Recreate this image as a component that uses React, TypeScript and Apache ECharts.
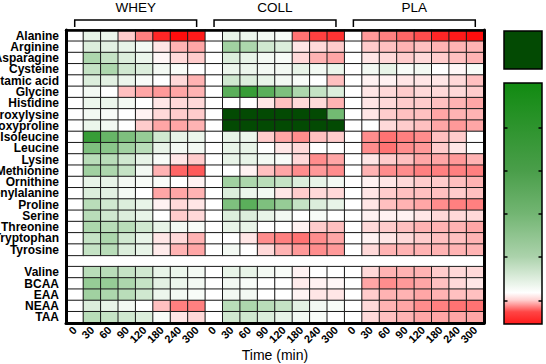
import React, { useEffect, useRef } from 'react';
import * as echarts from 'echarts';

const timePoints = ['0', '30', '60', '90', '120', '180', '240', '300'];
const groups = ['WHEY', 'COLL', 'PLA'];
const aminoAcids = [
  'Alanine', 'Arginine', 'Asparagine', 'Cysteine', 'Glutamic acid', 'Glycine', 'Histidine',
  'Hydroxylysine', 'Hydroxyproline', 'Isoleucine', 'Leucine', 'Lysine', 'Methionine',
  'Ornithine', 'Phenylalanine', 'Proline', 'Serine', 'Threonine', 'Tryptophan', 'Tyrosine',
];
const summaryRows = ['Valine', 'BCAA', 'EAA', 'NEAA', 'TAA'];
const xTitle = 'Time (min)';

// Relative change per cell: + = increase (green), - = decrease (red), 2 = above scale
const whey = [
  [0, 0.1, 0.08, -0.2, -0.5, -0.85, -0.95, -0.9],
  [0, 0.15, 0.12, 0.1, 0.05, -0.1, -0.3, -0.35],
  [0, 0.35, 0.25, 0.15, 0.08, -0.03, -0.15, -0.2],
  [0, 0.25, 0.35, 0.2, 0.15, 0.05, 0.03, 0],
  [0, 0.15, 0.12, 0.08, 0.03, 0, -0.15, -0.3],
  [0, 0.05, 0, -0.25, -0.35, -0.4, -0.35, -0.3],
  [0, 0.08, 0.08, 0.05, 0, -0.1, -0.15, -0.15],
  [0, 0.05, 0.03, 0, -0.05, -0.15, -0.2, -0.2],
  [0, 0.08, 0.05, 0, -0.2, -0.35, -0.35, -0.3],
  [0, 0.85, 0.65, 0.55, 0.45, 0.2, 0.1, 0.08],
  [0, 0.55, 0.5, 0.4, 0.3, 0.1, 0.05, 0.05],
  [0, 0.3, 0.3, 0.2, 0.1, 0.03, -0.1, -0.2],
  [0, 0.4, 0.35, 0.25, 0.05, -0.3, -0.6, -0.65],
  [0, 0.1, 0.1, 0.05, 0.03, 0.03, 0, -0.05],
  [0, 0.15, 0.12, 0.05, 0, -0.35, -0.35, -0.3],
  [0, 0.3, 0.2, 0.15, 0.1, -0.05, -0.15, -0.1],
  [0, 0.3, 0.2, 0.15, 0.1, 0, -0.2, -0.15],
  [0, 0.35, 0.3, 0.3, 0.2, 0.1, 0.05, 0.03],
  [0, 0.25, 0.35, 0.2, 0.1, -0.1, -0.15, -0.3],
  [0, 0.25, 0.3, 0.15, 0.1, -0.08, -0.3, -0.35],
  [0, 0.3, 0.3, 0.25, 0.2, 0.1, 0.08, 0.05],
  [0, 0.45, 0.45, 0.35, 0.25, 0.12, 0.08, 0.05],
  [0, 0.4, 0.35, 0.3, 0.2, 0.08, 0.05, 0.03],
  [0, 0.15, 0.1, 0.05, 0, -0.25, -0.5, -0.5],
  [0, 0.3, 0.25, 0.2, 0.15, 0.03, -0.1, -0.15],
];
const coll = [
  [0, 0.1, 0.08, 0.05, 0.03, -0.55, -0.75, -0.8],
  [0, 0.4, 0.35, 0.2, 0.15, -0.1, -0.15, -0.2],
  [0, 0.15, 0.1, 0.05, 0.03, -0.15, -0.3, -0.35],
  [0, 0.08, 0.08, 0.05, 0.05, 0.1, 0.05, 0.08],
  [0, 0.2, 0.15, 0.1, 0.05, 0.03, 0, -0.25],
  [0, 0.7, 0.85, 0.7, 0.55, 0.35, 0.25, 0.15],
  [0, 0, 0, -0.1, -0.25, -0.15, -0.15, -0.3],
  [0, 2, 2, 2, 2, 2, 2, 0.6],
  [0, 2, 2, 2, 2, 2, 2, 2],
  [0, 0.1, 0.08, -0.2, -0.35, -0.45, -0.25, -0.2],
  [0, 0.1, 0.1, 0, -0.1, -0.15, 0, 0],
  [0, 0.1, 0.1, 0.05, 0.03, -0.15, -0.45, -0.35],
  [0, 0, -0.05, -0.25, -0.35, -0.45, -0.4, -0.45],
  [0, 0.4, 0.35, 0.3, 0.25, 0.15, 0.1, 0.05],
  [0, 0.15, 0.08, 0.05, -0.1, -0.2, -0.15, -0.15],
  [0, 0.55, 0.7, 0.55, 0.45, 0.25, 0.15, 0.1],
  [0, 0.15, 0.15, 0.1, 0.05, 0, 0.03, 0],
  [0, 0.1, 0.1, 0, 0, -0.05, -0.2, -0.25],
  [0, 0, -0.1, -0.45, -0.5, -0.55, -0.45, -0.35],
  [0, 0.05, 0, -0.15, -0.3, -0.4, -0.45, -0.4],
  [0, 0.1, 0.1, 0.05, 0.03, -0.05, 0, 0],
  [0, 0.05, 0.03, 0, 0, -0.08, -0.05, -0.03],
  [0, 0.05, 0.05, 0, 0, -0.05, -0.1, -0.1],
  [0, 0.3, 0.35, 0.3, 0.25, 0.12, 0.05, 0.03],
  [0, 0.2, 0.2, 0.15, 0.1, 0.05, 0.03, 0],
];
const pla = [
  [0, -0.4, -0.5, -0.6, -0.7, -0.85, -0.9, -0.95],
  [0, -0.2, -0.25, -0.3, -0.25, -0.3, -0.3, -0.3],
  [0, -0.1, -0.15, -0.2, -0.15, -0.2, -0.25, -0.3],
  [0, 0.05, 0.1, 0.03, 0.05, 0, -0.03, 0.03],
  [0, -0.05, -0.05, -0.1, -0.1, -0.1, -0.15, -0.25],
  [0, -0.1, -0.15, -0.2, -0.15, -0.15, -0.15, -0.2],
  [0, -0.1, -0.15, -0.2, -0.2, -0.25, -0.3, -0.35],
  [0, -0.1, -0.2, -0.25, -0.25, -0.35, -0.3, -0.3],
  [0, 0, -0.15, -0.2, -0.25, -0.35, -0.4, -0.35],
  [0, -0.45, -0.55, -0.5, -0.45, -0.25, -0.2, 0],
  [0, -0.45, -0.55, -0.45, -0.4, -0.2, -0.1, 0],
  [0, -0.1, -0.2, -0.25, -0.35, -0.35, -0.4, -0.3],
  [0, -0.3, -0.45, -0.45, -0.5, -0.5, -0.5, -0.5],
  [0, -0.05, -0.1, -0.15, -0.2, -0.2, -0.25, -0.3],
  [0, -0.1, -0.2, -0.25, -0.25, -0.25, -0.2, -0.25],
  [0, -0.1, -0.25, -0.3, -0.35, -0.45, -0.5, -0.5],
  [0, -0.05, -0.05, -0.05, -0.1, -0.15, -0.15, -0.15],
  [0, -0.15, -0.2, -0.25, -0.3, -0.3, -0.3, -0.35],
  [0, -0.05, -0.1, -0.15, -0.2, -0.25, -0.25, -0.3],
  [0, -0.15, -0.3, -0.3, -0.3, -0.3, -0.3, -0.3],
  [0, -0.15, -0.3, -0.3, -0.3, -0.2, -0.15, -0.15],
  [0, -0.35, -0.45, -0.4, -0.35, -0.25, -0.15, -0.1],
  [0, -0.2, -0.3, -0.3, -0.35, -0.3, -0.25, -0.25],
  [0, -0.15, -0.3, -0.35, -0.45, -0.5, -0.55, -0.55],
  [0, -0.15, -0.25, -0.3, -0.35, -0.35, -0.35, -0.35],
];

const FONT = '"Liberation Sans", Arial, Helvetica, sans-serif';

function cellColor(v: number): string {
  if (v > 1.2) return '#034a03';
  if (v >= 0) {
    const f = Math.min(v, 1);
    const r = Math.round(255 + (20 - 255) * f);
    const g = Math.round(255 + (140 - 255) * f);
    return `rgb(${r},${g},${r})`;
  }
  const f = Math.min(-v, 1);
  const gb = Math.round(255 * (1 - f));
  return `rgb(255,${gb},${gb})`;
}

export default function App() {
  const ref = useRef<HTMLDivElement>(null);
  useEffect(() => {
    const chart = echarts.init(ref.current!, null, { renderer: 'svg' });
    const rows = [...aminoAcids, '', ...summaryRows];
    const xCats = groups.flatMap((g) => timePoints.map((t) => g + '|' + t));
    const groupData = [whey, coll, pla];
    const data: any[] = [];
    groupData.forEach((g, gi) =>
      g.forEach((row, ri) =>
        row.forEach((v, ti) => {
          const yIdx = ri < aminoAcids.length ? ri : ri + 1;
          data.push([gi * timePoints.length + ti, yIdx, v]);
        })
      )
    );

    const thick = { lineStyle: { color: '#000', width: 3 } };
    chart.setOption({
      animation: false,
      grid: { left: 66, right: 62, top: 30, bottom: 41, containLabel: false, outerBoundsMode: 'none' },
      visualMap: {
        type: 'continuous',
        show: false,
        dimension: 2,
        min: -1,
        max: 1.5,
        inRange: { color: [-1, -0.5, 0, 0.5, 1, 2].map(cellColor) },
      },
      xAxis: [
        {
          type: 'category',
          data: xCats,
          position: 'bottom',
          z: 10,
          axisLine: thick,
          axisTick: { show: false },
          splitLine: { show: false },
          axisLabel: {
            interval: 0,
            rotate: 45,
            formatter: (v: string) => v.split('|')[1],
            fontWeight: 'bold',
            fontSize: 11,
            color: '#000',
            fontFamily: FONT,
            margin: 5,
          },
          name: xTitle,
          nameLocation: 'middle',
          nameGap: 25,
          nameMoveOverlap: false,
          nameTextStyle: { fontSize: 14, color: '#000', fontFamily: FONT },
        },
        {
          type: 'category',
          data: xCats,
          position: 'top',
          z: 10,
          axisLine: { lineStyle: { color: '#000', width: 2.5 } },
          axisTick: { show: false },
          axisLabel: { show: false },
        },
      ],
      yAxis: [
        {
          type: 'category',
          data: rows,
          inverse: true,
          z: 10,
          axisLine: thick,
          axisTick: {
            length: 5,
            alignWithLabel: true,
            interval: (_i: number, v: string) => v !== '',
            lineStyle: { color: '#000', width: 2 },
          },
          axisLabel: {
            interval: 0,
            fontWeight: 'bold',
            fontSize: 12,
            lineHeight: 11,
            color: '#000',
            fontFamily: FONT,
            margin: 7,
          },
        },
        {
          type: 'category',
          data: rows,
          inverse: true,
          position: 'right',
          z: 10,
          axisLine: thick,
          axisTick: { show: false },
          axisLabel: { show: false },
        },
      ],
      series: [
        {
          type: 'heatmap',
          xAxisIndex: 0,
          yAxisIndex: 0,
          data,
          itemStyle: { borderColor: '#1a1a1a', borderWidth: 1 },
          emphasis: { disabled: true },
        },
      ],
    });

    const graphics: any[] = [];
    const n = timePoints.length;
    groups.forEach((g, gi) => {
      const x0 = chart.convertToPixel({ xAxisIndex: 0 }, gi * n) as number;
      const x1 = chart.convertToPixel({ xAxisIndex: 0 }, gi * n + n - 1) as number;
      graphics.push({
        type: 'polyline',
        shape: { points: [[x0, 27], [x0, 20], [x1, 20], [x1, 27]] },
        style: { stroke: '#000', lineWidth: 1.5, fill: null },
      });
      graphics.push({
        type: 'text',
        x: (x0 + x1) / 2,
        y: 7,
        style: {
          text: g,
          fill: '#000',
          fontSize: 13.5,
          fontFamily: FONT,
          textAlign: 'center',
          textVerticalAlign: 'middle',
        },
      });
    });

    // colour scale legend
    graphics.push({
      type: 'rect',
      shape: { x: 504, y: 31, width: 38, height: 38 },
      style: { fill: '#034a03', stroke: '#000', lineWidth: 1.5 },
    });
    graphics.push({
      type: 'rect',
      shape: { x: 504, y: 83, width: 38, height: 241 },
      style: {
        fill: {
          type: 'linear',
          x: 0,
          y: 0,
          x2: 0,
          y2: 1,
          colorStops: [
            { offset: 0, color: '#118a11' },
            { offset: 0.365, color: '#4a9e4a' },
            { offset: 0.54, color: '#72b572' },
            { offset: 0.72, color: '#abd2ab' },
            { offset: 0.84, color: '#eef6ee' },
            { offset: 0.87, color: '#ffffff' },
            { offset: 0.9, color: '#ffd2d2' },
            { offset: 0.95, color: '#ff4545' },
            { offset: 1, color: '#ff1a1a' },
          ],
        },
        stroke: '#000',
        lineWidth: 1.5,
      },
    });
    [128, 171, 214, 257, 301].forEach((y) => {
      graphics.push({ type: 'line', shape: { x1: 504, y1: y, x2: 507.5, y2: y }, style: { stroke: '#000', lineWidth: 1.5 } });
      graphics.push({ type: 'line', shape: { x1: 538.5, y1: y, x2: 542, y2: y }, style: { stroke: '#000', lineWidth: 1.5 } });
    });

    chart.setOption({ graphic: graphics });

    return () => chart.dispose();
  }, []);

  return (
    <div
      ref={ref}
      style={{ position: 'absolute', left: 0, top: 0, width: 546, height: 364, background: '#fff' }}
    />
  );
}
